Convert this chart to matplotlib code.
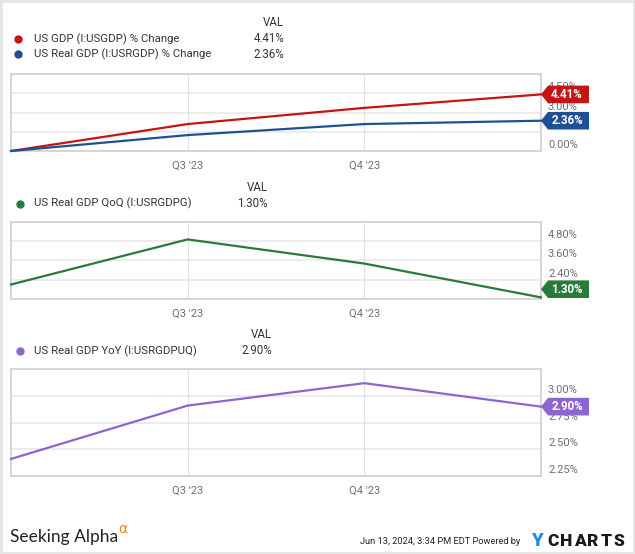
import matplotlib
matplotlib.use("Agg")
import matplotlib.pyplot as plt
from matplotlib.patches import Polygon, Rectangle
from matplotlib.lines import Line2D

W, H, DPI = 635, 554, 100

# ---------------- data ----------------
quarters = ["Q2 '23", "Q3 '23", "Q4 '23", "Q1 '24"]
tick_quarters = ["Q3 '23", "Q4 '23"]

gdp_name = "US GDP (I:USGDP) % Change"
real_gdp_name = "US Real GDP (I:USRGDP) % Change"
gdp_change = [0.0, 2.10, 3.36, 4.41]
real_gdp_change = [0.0, 1.24, 2.10, 2.36]

qoq_name = "US Real GDP QoQ (I:USRGDPG)"
real_gdp_qoq = [2.1, 4.9, 3.4, 1.3]

yoy_name = "US Real GDP YoY (I:USRGDPUQ)"
real_gdp_yoy = [2.41, 2.91, 3.12, 2.90]

panel1_ticks = [0.0, 1.5, 3.0, 4.5]
panel2_ticks = [1.2, 2.4, 3.6, 4.8]
panel3_ticks = [2.25, 2.50, 2.75, 3.00]

footer_text = "Jun 13, 2024, 3:34 PM EDT Powered by"

# ---------------- style ----------------
RED = "#c41414"
BLUE = "#1f4f94"
GREEN = "#2a7a3b"
PURPLE = "#8d64d0"
TXT = "#333333"
TICK = "#6f6f6f"
FONT = "Roboto"

plt.rcParams["font.family"] = [FONT, "DejaVu Sans"]

fig = plt.figure(figsize=(W / DPI, H / DPI), dpi=DPI)
fig.patch.set_facecolor("white")


def fx(px):
    return px / W


def fy(py):
    return 1 - py / H


AX_L, AX_R = 11, 541


def make_axes(top, bottom, ylim, ticks):
    ax = fig.add_axes([fx(AX_L), fy(bottom), (AX_R - AX_L) / W, (bottom - top) / H])
    ax.set_xlim(0, len(quarters) - 1)
    ax.set_ylim(*ylim)
    for s in ax.spines.values():
        s.set_color("#d2d2d2")
        s.set_linewidth(1.3)
    ax.set_yticks(ticks)
    ax.set_yticklabels([])
    ax.tick_params(axis="y", length=0)
    ax.set_xticks([quarters.index(q) for q in tick_quarters])
    ax.set_xticklabels(tick_quarters, fontsize=8, color=TICK)
    ax.tick_params(axis="x", length=0, pad=7)
    for t in ticks:
        ax.axhline(t, color="#ebebeb", lw=1.3, zorder=0)
    for q in tick_quarters:
        ax.axvline(quarters.index(q), color="#e2e2e2", lw=0.8, zorder=0)
    # y tick labels drawn slightly above gridlines, at the right
    for t in ticks:
        ax.annotate(f"{t:.2f}%", xy=(1.0, t), xycoords=("axes fraction", "data"),
                    xytext=(5.0, 4.3), textcoords="offset points",
                    ha="left", va="center", fontsize=8, color=TICK, zorder=1,
                    annotation_clip=False)
    return ax


def value_box(ax, val, color, bottom_px):
    xd, yd = ax.transData.transform((len(quarters) - 1, val))
    cy = H - yd
    hh = 8.8
    cy = min(cy, bottom_px - hh - 1)
    x0 = AX_R
    pts = [(x0, cy), (x0 + 7, cy - hh), (x0 + 48, cy - hh), (x0 + 48, cy + hh), (x0 + 7, cy + hh)]
    poly = Polygon([(fx(a), fy(b)) for a, b in pts], closed=True, transform=fig.transFigure,
                   facecolor=color, edgecolor="none", zorder=5)
    fig.add_artist(poly)
    fig.text(fx(x0 + 26), fy(cy), f"{val:.2f}%", ha="center", va="center",
             fontsize=8.3, fontweight="bold", color="white", zorder=6)


def legend(rows, val_right, header_y, row_ys, dot_x, text_x):
    fig.text(fx(val_right), fy(header_y), "VAL", ha="right", va="center", fontsize=8.3, color=TXT)
    for (name, val, color), y in zip(rows, row_ys):
        fig.add_artist(Line2D([fx(dot_x)], [fy(y)], marker="o", markersize=5, color=color,
                              transform=fig.transFigure, linestyle="none"))
        fig.text(fx(text_x), fy(y), name, ha="left", va="center", fontsize=8.2, color=TXT)
        fig.text(fx(val_right), fy(y), f"{val:.2f}%", ha="right", va="center", fontsize=8.3, color=TXT)


xs = list(range(len(quarters)))

# Panel 1
ax1 = make_axes(74, 151, (0, 6.0), panel1_ticks)
ax1.plot(xs, gdp_change, color=RED, lw=1.6, clip_on=False, zorder=3)
ax1.plot(xs, real_gdp_change, color=BLUE, lw=1.6, clip_on=False, zorder=3)
legend([(gdp_name, gdp_change[-1], RED), (real_gdp_name, real_gdp_change[-1], BLUE)],
       284, 23, [39, 54], 18, 34)
value_box(ax1, gdp_change[-1], RED, 151)
value_box(ax1, real_gdp_change[-1], BLUE, 151)

# Panel 2
ax2 = make_axes(221.7, 299, (1.2, 6.0), panel2_ticks)
ax2.plot(xs, real_gdp_qoq, color=GREEN, lw=1.6, clip_on=False, zorder=3)
legend([(qoq_name, real_gdp_qoq[-1], GREEN)], 268, 188, [203.5], 20, 34)
value_box(ax2, real_gdp_qoq[-1], GREEN, 299)

# Panel 3
ax3 = make_axes(369.3, 476, (2.25, 3.25), panel3_ticks)
ax3.plot(xs, real_gdp_yoy, color=PURPLE, lw=1.6, clip_on=False, zorder=3)
legend([(yoy_name, real_gdp_yoy[-1], PURPLE)], 272, 335, [351], 20, 34)
value_box(ax3, real_gdp_yoy[-1], PURPLE, 476)

# Footer
fig.text(fx(10), fy(537), "Seeking Alpha", family=["Lato", "DejaVu Sans"], fontsize=12.5,
         color="#222222", ha="left", va="center")
fig.text(fx(118), fy(529), "\u03b1", family=["DejaVu Sans"], fontsize=10, color="#f08020",
         ha="left", va="center")
fig.text(fx(520), fy(542), footer_text, ha="right", va="center", fontsize=6.7, color="#222222")
fig.text(fx(531), fy(541), "Y", ha="left", va="center", fontsize=13.5, fontweight="heavy", color="#1b8fe6")
for i, ch in enumerate("CHARTS"):
    fig.text(fx(547 + i * 13.3), fy(541), ch, ha="left", va="center", fontsize=12.5,
             fontweight="heavy", color="#1a1a1a")

# Outer frame
fig.add_artist(Rectangle((0, 0), 1, 1, transform=fig.transFigure, fill=False,
                         edgecolor="#e6e6e6", lw=3.6, zorder=10))

fig.savefig("out.png", dpi=DPI)
